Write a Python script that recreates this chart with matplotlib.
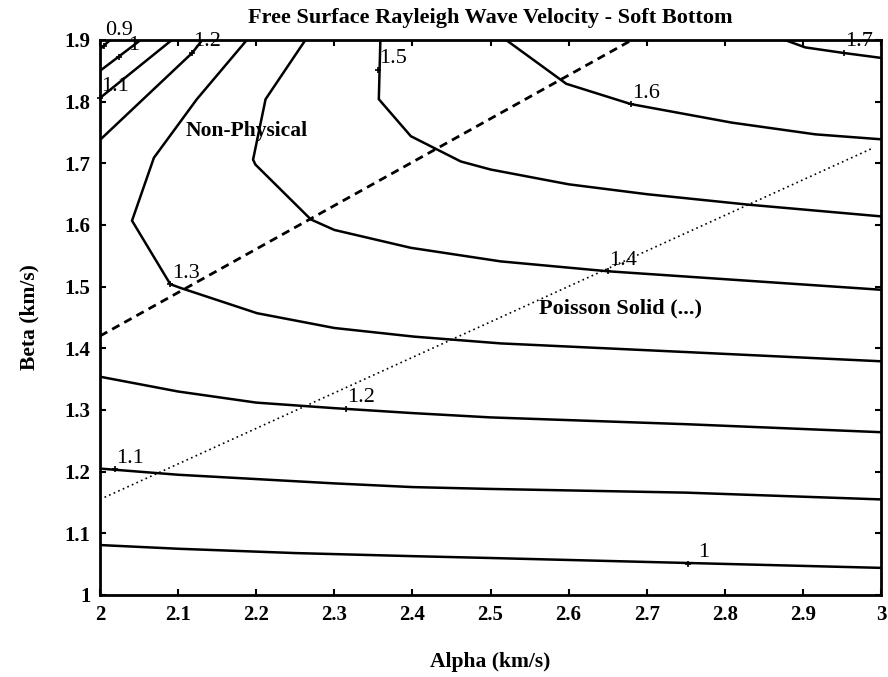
import matplotlib
matplotlib.use("Agg")
from matplotlib import pyplot as plt

plt.rcParams["font.family"] = "Liberation Serif"

# contour branches of the Rayleigh wave velocity (km/s), alpha on x, beta on y
# upper-left (non-physical) branches
c09_alpha = [2.0, 2.013]
c09_beta = [1.885, 1.900]
c10_top_alpha = [2.0, 2.052]
c10_top_beta = [1.850, 1.900]
c11_top_alpha = [2.0, 2.092]
c11_top_beta = [1.806, 1.900]
c12_top_alpha = [2.0, 2.118, 2.131]
c12_top_beta = [1.738, 1.879, 1.900]

# lower branches
c10_alpha = [2.0, 2.1, 2.25, 2.4, 2.5, 2.75, 3.0]
c10_beta = [1.081, 1.075, 1.068, 1.063, 1.060, 1.052, 1.044]
c11_alpha = [2.0, 2.1, 2.2, 2.3, 2.4, 2.5, 2.75, 3.0]
c11_beta = [1.205, 1.195, 1.188, 1.181, 1.175, 1.172, 1.166, 1.155]
c12_alpha = [2.0, 2.1, 2.2, 2.3, 2.4, 2.5, 2.75, 3.0]
c12_beta = [1.354, 1.330, 1.312, 1.303, 1.295, 1.288, 1.277, 1.264]

c13_alpha = [2.188, 2.124, 2.069, 2.041, 2.090, 2.103, 2.201, 2.300, 2.402, 2.513, 2.75, 3.0]
c13_beta = [1.900, 1.804, 1.709, 1.607, 1.504, 1.498, 1.457, 1.433, 1.419, 1.408, 1.394, 1.379]
c14_alpha = [2.263, 2.212, 2.196, 2.199, 2.270, 2.300, 2.398, 2.513, 2.650, 3.0]
c14_beta = [1.900, 1.804, 1.706, 1.698, 1.609, 1.592, 1.563, 1.541, 1.525, 1.495]
c15_alpha = [2.359, 2.357, 2.398, 2.462, 2.5, 2.6, 2.7, 2.83, 3.0]
c15_beta = [1.900, 1.804, 1.744, 1.703, 1.690, 1.666, 1.650, 1.633, 1.614]
c16_alpha = [2.520, 2.597, 2.680, 2.809, 2.916, 3.0]
c16_beta = [1.900, 1.829, 1.796, 1.766, 1.747, 1.739]
c17_alpha = [2.877, 2.903, 2.952, 3.0]
c17_beta = [1.900, 1.888, 1.879, 1.871]

contours = [
    (c09_alpha, c09_beta), (c10_top_alpha, c10_top_beta),
    (c11_top_alpha, c11_top_beta), (c12_top_alpha, c12_top_beta),
    (c10_alpha, c10_beta), (c11_alpha, c11_beta), (c12_alpha, c12_beta),
    (c13_alpha, c13_beta), (c14_alpha, c14_beta), (c15_alpha, c15_beta),
    (c16_alpha, c16_beta), (c17_alpha, c17_beta),
]

# contour labels and the points they mark
label_text = ["0.9", "1", "1.1", "1.2", "1.3", "1.4", "1.5", "1.6", "1.7", "1.2", "1.1", "1"]
label_alpha = [2.005, 2.024, 2.0, 2.118, 2.090, 2.650, 2.356, 2.680, 2.952, 2.315, 2.019, 2.753]
label_beta = [1.890, 1.873, 1.806, 1.879, 1.504, 1.525, 1.852, 1.796, 1.879, 1.302, 1.204, 1.051]

# non-physical boundary (dashed) and Poisson solid (dotted)
nonphys_alpha = [2.0, 2.681]
nonphys_beta = [1.420, 1.900]
poisson_alpha = [2.0, 2.99]
poisson_beta = [1.155, 1.725]

fig = plt.figure(figsize=(8.88, 6.77), dpi=100)
ax = fig.add_axes([100 / 888, 1 - 595 / 677, 781 / 888, 555 / 677])

for a, b in contours:
    ax.plot(a, b, color="black", linewidth=1.8, solid_joinstyle="miter")

ax.plot(nonphys_alpha, nonphys_beta, color="black", linewidth=2.0, linestyle=(0, (3, 2)))
ax.plot(poisson_alpha, poisson_beta, color="black", linewidth=1.2, linestyle=(0, (1, 2)))

for txt, a, b in zip(label_text, label_alpha, label_beta):
    ax.plot(a, b, marker="+", color="black", markersize=5, markeredgewidth=1.2, clip_on=False)
    # the corner label sits a little higher so it clears its neighbour
    dy = 11 if txt == "0.9" else 8
    ax.annotate(txt, (a, b), xytext=(11, dy), textcoords="offset points",
                ha="center", va="center", fontsize=16, annotation_clip=False)

ax.text(2.188, 1.752, "Non-Physical", ha="center", va="center", fontsize=15.5, fontweight="bold")
ax.text(2.667, 1.464, "Poisson Solid (...)", ha="center", va="center", fontsize=16, fontweight="bold")

ax.set_xlim(2, 3)
ax.set_ylim(1, 1.9)
ax.set_xticks([2, 2.1, 2.2, 2.3, 2.4, 2.5, 2.6, 2.7, 2.8, 2.9, 3])
ax.set_xticklabels(["2", "2.1", "2.2", "2.3", "2.4", "2.5", "2.6", "2.7", "2.8", "2.9", "3"])
ax.set_yticks([1, 1.1, 1.2, 1.3, 1.4, 1.5, 1.6, 1.7, 1.8, 1.9])
ax.set_yticklabels(["1", "1.1", "1.2", "1.3", "1.4", "1.5", "1.6", "1.7", "1.8", "1.9"])
ax.tick_params(direction="in", top=True, right=True, length=4, width=1.5,
               labelsize=15, pad=7)
for lbl in ax.get_xticklabels() + ax.get_yticklabels():
    lbl.set_fontweight("bold")
for sp in ax.spines.values():
    sp.set_linewidth(2)

ax.set_title("Free Surface Rayleigh Wave Velocity - Soft Bottom", fontsize=16,
             fontweight="bold", pad=12)
ax.set_xlabel("Alpha (km/s)", fontsize=15.5, fontweight="bold", labelpad=20)
ax.set_ylabel("Beta (km/s)", fontsize=15.5, fontweight="bold", labelpad=18)

fig.savefig("out.png", dpi=100)
